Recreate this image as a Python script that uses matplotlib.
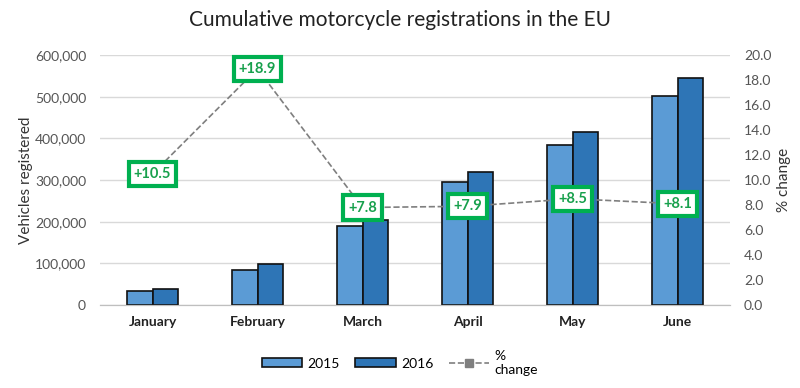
import matplotlib.pyplot as plt
import numpy as np

months = ['January', 'February', 'March', 'April', 'May', 'June']
reg_2015 = [34000, 84000, 190000, 296000, 383000, 502000]
reg_2016 = [37600, 99000, 205000, 320000, 416000, 544000]
pct_change = [10.5, 18.9, 7.8, 7.9, 8.5, 8.1]

plt.rcParams['font.family'] = ['Lato', 'DejaVu Sans']

fig = plt.figure(figsize=(8, 3.88), dpi=100)
ax = fig.add_axes([0.125, 0.214, 0.7875, 0.644])
ax2 = ax.twinx()

x = np.arange(len(months))
w = 0.245
c15 = '#5b9bd5'
c16 = '#2e75b6'
b1 = ax.bar(x - w/2, reg_2015, w, color=c15, edgecolor='#111111', linewidth=1.2, label='2015', zorder=3)
b2 = ax.bar(x + w/2, reg_2016, w, color=c16, edgecolor='#111111', linewidth=1.2, label='2016', zorder=3)

ax.set_ylim(0, 600000)
ax.set_yticks(np.arange(0, 600001, 100000))
ax.set_yticklabels([f'{v:,}' for v in range(0, 600001, 100000)])
ax.yaxis.grid(True, color='#d9d9d9', linewidth=1)
ax.set_axisbelow(True)
ax.set_xlim(-0.5, len(months) - 0.5)
ax.set_xticks(x)
ax.set_xticklabels(months, fontweight='bold', fontsize=9.5)
ax.set_ylabel('Vehicles registered', fontsize=11, color='#333333', labelpad=1)

for a in (ax, ax2):
    for s in ('top', 'left', 'right'):
        a.spines[s].set_visible(False)
    a.spines['bottom'].set_color('#bfbfbf')
    a.tick_params(length=0, labelsize=10, colors='#555555', pad=10)
ax.tick_params(axis='x', colors='#222222', pad=8)

line, = ax2.plot(x, pct_change, color='#7f7f7f', linestyle='--', linewidth=1.2,
                 marker='s', markersize=6, label='%\nchange', zorder=4)
ax2.set_ylim(0, 20)
ax2.set_yticks(np.arange(0, 20.1, 2))
ax2.set_yticklabels([f'{v:.1f}' for v in np.arange(0, 20.1, 2)])
ax2.set_ylabel('% change', fontsize=11, color='#333333')
ax2.set_zorder(ax.get_zorder() + 1)

for xi, p in zip(x, pct_change):
    ax2.text(xi, p, f'+{p}', ha='center', va='center', fontsize=10.5, fontweight='bold',
             color='#17a04c', zorder=5,
             bbox=dict(boxstyle='square,pad=0.35', facecolor='white', edgecolor='#00b050', linewidth=3))

fig.suptitle('Cumulative motorcycle registrations in the EU', fontsize=15, y=0.975, color='#222222')

leg = fig.legend([b1, b2, line], ['2015', '2016', '%\nchange'], loc='lower center',
                 bbox_to_anchor=(0.5, 0.0), ncol=3, frameon=False, fontsize=10,
                 handlelength=2.9, handleheight=0.6, handletextpad=0.4, columnspacing=1.1)
for t in leg.get_texts():
    t.set_multialignment('left')

fig.savefig('out.png', dpi=100)
